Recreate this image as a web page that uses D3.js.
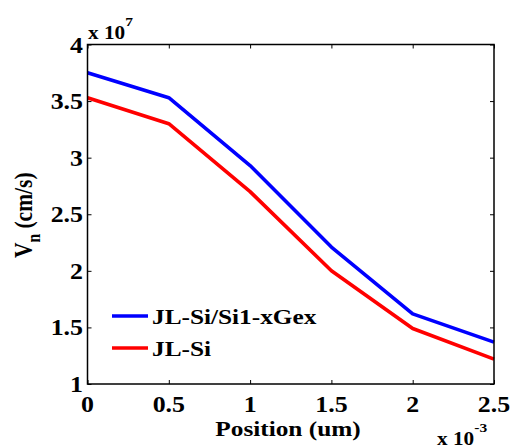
<!DOCTYPE html>
<html><head><meta charset="utf-8">
<script src="https://cdn.jsdelivr.net/npm/d3@7"></script>
<style>body{margin:0;background:#fff}svg{display:block}</style>
</head><body><svg id="c" width="510" height="448"></svg>
<script>
const positions = [0, 0.5, 1, 1.5, 2, 2.5];           // x 10^-3
const sige = [3.75, 3.53, 2.93, 2.21, 1.62, 1.37];     // x 10^7
const si = [3.53, 3.30, 2.70, 2.00, 1.49, 1.22];
const seriesNames = ["JL-Si/Si1-xGex", "JL-Si"];
const seriesColors = ["#0000ff", "#ff0000"];
const xTicks = [0, 0.5, 1, 1.5, 2, 2.5];
const yTicks = [1, 1.5, 2, 2.5, 3, 3.5, 4];

const FONT = "Liberation Serif, Times New Roman, serif";
const SX = 1.15; // horizontal stretch of the reference's glyphs
const svg = d3.select("#c");
const L = 87.5, R = 494, T = 44.5, B = 384;
const x = d3.scaleLinear().domain([0, 2.5]).range([L, R]);
const y = d3.scaleLinear().domain([1, 4]).range([B, T]);
const fmt = d => String(d);
const txt = sel => sel.attr("font-family", FONT).attr("font-weight", "bold").attr("fill", "#000");
const at = (px, py, extra = "") => `translate(${px},${py}) scale(${SX},1)${extra}`;

// tick marks (inside) on all four sides
const g = svg.append("g");
g.append("g").attr("transform", `translate(0,${B})`).call(d3.axisBottom(x).tickValues(xTicks).tickSize(-4).tickFormat(""))
 .call(s => s.select(".domain").remove());
g.append("g").attr("transform", `translate(0,${T})`).call(d3.axisTop(x).tickValues(xTicks).tickSize(-4).tickFormat(""))
 .call(s => s.select(".domain").remove());
g.append("g").attr("transform", `translate(${L},0)`).call(d3.axisLeft(y).tickValues(yTicks).tickSize(-4).tickFormat(""))
 .call(s => s.select(".domain").remove());
g.append("g").attr("transform", `translate(${R},0)`).call(d3.axisRight(y).tickValues(yTicks).tickSize(-4).tickFormat(""))
 .call(s => s.select(".domain").remove());
g.selectAll(".tick line").attr("stroke", "#000").attr("stroke-width", 1);

// lines
const line = d3.line().x((d, i) => x(positions[i])).y(d => y(d));
[sige, si].forEach((s, k) => {
  svg.append("path").datum(s).attr("d", line).attr("fill", "none")
    .attr("stroke", seriesColors[k]).attr("stroke-width", 3.6).attr("stroke-linejoin", "round");
});

// box
svg.append("rect").attr("x", L).attr("y", T).attr("width", R - L).attr("height", B - T)
  .attr("fill", "none").attr("stroke", "#000").attr("stroke-width", 1.5);

// tick labels
svg.selectAll(".xl").data(xTicks).join("text").attr("class", "xl").call(txt)
  .attr("transform", d => at(x(d), 411.5)).attr("text-anchor", "middle").attr("font-size", 22.5).text(fmt);
svg.selectAll(".yl").data(yTicks).join("text").attr("class", "yl").call(txt)
  .attr("transform", d => at(83, y(d) + 8)).attr("text-anchor", "end").attr("font-size", 22.5).text(fmt);

// exponents
const e1 = svg.append("text").call(txt).attr("transform", at(88, 39)).attr("font-size", 18.5);
e1.append("tspan").text("x 10");
e1.append("tspan").attr("dy", -13).attr("font-size", 13.5).text("7");
const e2 = svg.append("text").call(txt).attr("transform", at(437, 445)).attr("font-size", 18.5);
e2.append("tspan").text("x 10");
e2.append("tspan").attr("dy", -13).attr("font-size", 13.5).text("-3");

// axis labels
svg.append("text").call(txt).attr("transform", at(288, 435.5)).attr("text-anchor", "middle").attr("font-size", 22).text("Position (um)");
const yl = svg.append("text").call(txt).attr("transform", at(32, (T + B) / 2 + 1, " rotate(-90)")).attr("text-anchor", "middle").attr("font-size", 21.5);
yl.append("tspan").text("V");
yl.append("tspan").attr("dy", 7).attr("font-size", 15.5).text("n");
yl.append("tspan").attr("dy", -7).text(" (cm/s)");

// legend
const ly = [316, 348];
seriesNames.forEach((n, k) => {
  svg.append("line").attr("x1", 112).attr("x2", 148).attr("y1", ly[k]).attr("y2", ly[k])
    .attr("stroke", seriesColors[k]).attr("stroke-width", 3.6);
  svg.append("text").call(txt).attr("transform", at(152, ly[k] + 8)).attr("font-size", 22).text(n);
});
</script></body></html>
